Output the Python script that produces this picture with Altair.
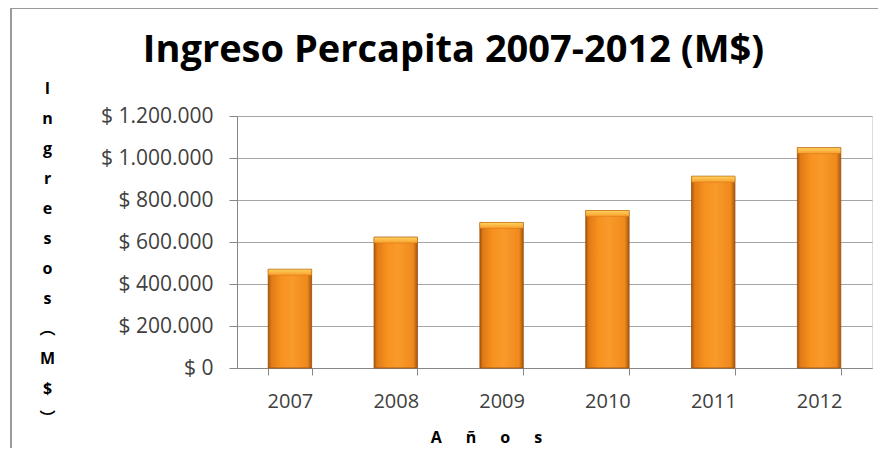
import altair as alt
import pandas as pd

years = ["2007", "2008", "2009", "2010", "2011", "2012"]
values = [470000, 623000, 693000, 750000, 913000, 1049000]
y_ticks = [0, 200000, 400000, 600000, 800000, 1000000, 1200000]
y_title = ["I", "n", "g", "r", "e", "s", "o", "s", "\ufe35", "M", "$", "\ufe36"]
SP = "\u2003\u2002"
x_title = SP.join(["A", "ñ", "o", "s"])
title = "Ingreso Percapita 2007-2012 (M$)"

df = pd.DataFrame({"year": years, "value": values})

FONT = "Open Sans, Noto Sans CJK SC"

body_grad = alt.LinearGradient(
    gradient="linear",
    stops=[
        alt.GradientStop(color="#a9560c", offset=0),
        alt.GradientStop(color="#e07a16", offset=0.07),
        alt.GradientStop(color="#f7921f", offset=0.3),
        alt.GradientStop(color="#f99a2a", offset=0.55),
        alt.GradientStop(color="#ef8a1c", offset=0.9),
        alt.GradientStop(color="#a9560c", offset=1),
    ],
    x1=0, x2=1, y1=0, y2=0,
)
bevel_grad = alt.LinearGradient(
    gradient="linear",
    stops=[
        alt.GradientStop(color="#ffd25e", offset=0),
        alt.GradientStop(color="#fbb440", offset=0.6),
        alt.GradientStop(color="#f99a2a", offset=1),
    ],
    x1=0, x2=0, y1=0, y2=1,
)

x_enc = alt.X(
    "year:N",
    sort=years,
    scale=alt.Scale(paddingInner=0.59, paddingOuter=0.295),
    axis=alt.Axis(
        title=x_title,
        titleFont=FONT,
        titleFontSize=16,
        titleFontWeight="bold",
        titleColor="#000000",
        titleX=249,
        titleY=69,
        titleBaseline="middle",
        labelAngle=0,
        labelFont=FONT,
        labelFontSize=20,
        labelColor="#404040",
        labelPadding=16,
        tickBand="extent",
        tickSize=7,
        tickColor="#868686",
        domainColor="#868686",
        grid=False,
    ),
)
y_enc = alt.Y(
    "value:Q",
    scale=alt.Scale(domain=[0, 1200000]),
    axis=alt.Axis(
        values=y_ticks,
        title=y_title,
        titleFont=FONT,
        titleFontSize=16,
        titleFontWeight="bold",
        titleColor="#000000",
        titleAngle=0,
        titleAlign="center",
        titleBaseline="top",
        titleLineHeight=30,
        titleX=-190,
        titleY=-36,
        labelExpr="'$ ' + replace(format(datum.value, ','), regexp(',', 'g'), '.')",
        labelFont=FONT,
        labelFontSize=21,
        labelColor="#404040",
        labelPadding=16,
        tickSize=8,
        tickColor="#868686",
        domainColor="#868686",
        gridColor="#a6a6a6",
        gridWidth=1.2,
    ),
)

bars = alt.Chart(df).mark_bar(
    fill=body_grad, stroke="#9a4e0a", strokeWidth=0.8
).encode(x=x_enc, y=y_enc)

bevel = alt.Chart(df).transform_calculate(
    low="datum.value - 28000"
).mark_bar(fill=bevel_grad, stroke="#c96d12", strokeWidth=0.4).encode(
    x=alt.X("year:N", sort=years),
    y="value:Q",
    y2="low:Q",
)

border_top = alt.Chart(df).mark_rule(color="#9a9a9a", strokeWidth=2).encode(
    x=alt.value(-226), x2=alt.value(649), y=alt.value(-108)
)
border_left = alt.Chart(df).mark_rule(color="#9a9a9a", strokeWidth=2).encode(
    x=alt.value(-226), y=alt.value(-108), y2=alt.value(341)
)

chart = alt.layer(bars, bevel, border_top, border_left).properties(
    width=635,
    height=252,
    padding={"left": 229, "top": 108, "right": 6, "bottom": 80},
    autosize=alt.AutoSizeParams(type="none"),
    title=alt.TitleParams(
        text=title,
        font=FONT,
        fontSize=38,
        fontWeight="bold",
        color="#000000",
        anchor="middle",
        frame="group",
        dx=-101,
        offset=-63,
    ),
).configure_view(stroke=None).configure(background="#ffffff")

chart.save("out.html", embed_options={"renderer": "svg", "actions": False})
